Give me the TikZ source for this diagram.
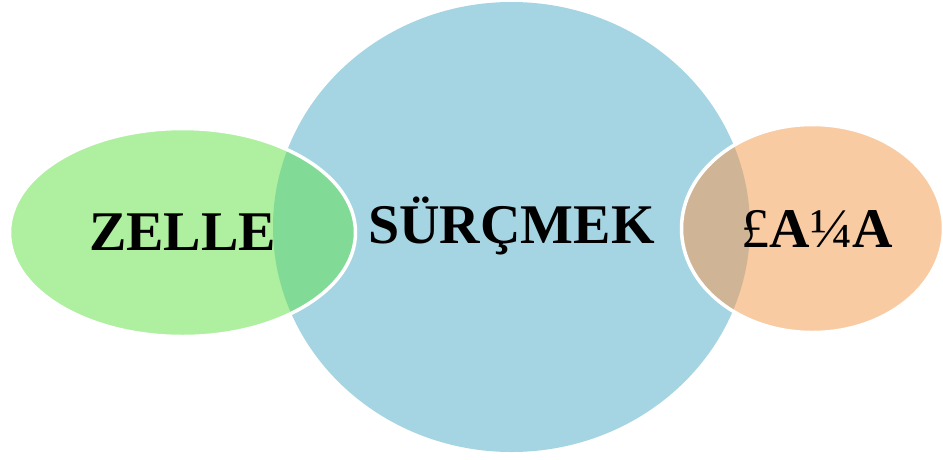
\documentclass[tikz,border=0pt]{standalone}
\usepackage{fontspec}
\setmainfont{Liberation Serif}
\definecolor{circblue}{HTML}{A5D5E3}
\definecolor{leafgreen}{HTML}{AEEFA0}
\definecolor{leafgreendark}{HTML}{81DA95}
\definecolor{peach}{HTML}{F9CBA3}
\definecolor{peachdark}{HTML}{CFB595}
\tikzset{
  rim/.style={draw=white, line width=3.5pt},
  label/.style={inner sep=0pt, anchor=base, font=\fontsize{56}{60}\selectfont\bfseries, text=black}
}
\begin{document}
\begin{tikzpicture}[x=1pt,y=-1pt]
  \useasboundingbox (0,0) rectangle (943,459);
  \clip (0,0) rectangle (943,459);
  % central circle
  \fill[circblue] (511.5,227) ellipse [x radius=238.5, y radius=225];
  % side ellipses
  \fill[leafgreen] (182.5,232.5) ellipse [x radius=173, y radius=104];
  \fill[peach] (812.5,228.5) ellipse [x radius=131, y radius=104];
  % overlaps with the circle
  \begin{scope}
    \clip (511.5,227) ellipse [x radius=238.5, y radius=225];
    \fill[leafgreendark] (182.5,232.5) ellipse [x radius=173, y radius=104];
    \fill[peachdark] (812.5,228.5) ellipse [x radius=131, y radius=104];
  \end{scope}
  % white rims of the side ellipses
  \draw[rim] (182.5,232.5) ellipse [x radius=173, y radius=104];
  \draw[rim] (812.5,228.5) ellipse [x radius=131, y radius=104];
  % labels
  \node[label] (left) at (182.5,250) {ZELLE};
  \node[label] (mid) at (511.5,243) {SÜRÇMEK};
  \node[label] (right) at (817,247) {{\mdseries £}A{\mdseries ¼}A};
\end{tikzpicture}
\end{document}
